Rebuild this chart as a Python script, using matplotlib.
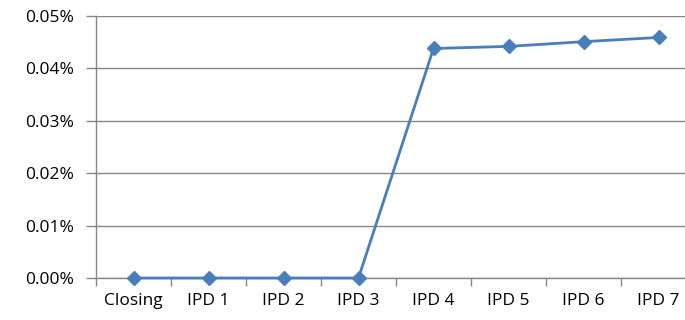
import matplotlib.pyplot as plt
from matplotlib.ticker import FuncFormatter, MultipleLocator, FixedLocator

plt.rcParams["font.family"] = ["Open Sans", "DejaVu Sans"]

categories = ["Closing", "IPD 1", "IPD 2", "IPD 3", "IPD 4", "IPD 5", "IPD 6", "IPD 7"]
values_pct = [0.0, 0.0, 0.0, 0.0, 0.0438, 0.0442, 0.0451, 0.0459]

fig = plt.figure(figsize=(6.85, 3.2), dpi=100)
ax = fig.add_axes([96 / 685, 42 / 320, 600 / 685, 262 / 320])

x = list(range(len(categories)))
ax.plot(x, values_pct, color="#4A7EBB", lw=2, marker="D", markersize=7.5,
        markerfacecolor="#4A7EBB", markeredgecolor="#4A7EBB", clip_on=False, zorder=3)

ax.set_xlim(-0.5, len(categories) - 0.5)
ax.set_ylim(0, 0.05)
ax.yaxis.set_major_locator(MultipleLocator(0.01))
ax.yaxis.set_major_formatter(FuncFormatter(lambda v, p: f"{v:.2f}%"))
ax.grid(axis="y", color="#868686", lw=1)
ax.set_axisbelow(True)

ax.set_xticks(x)
ax.set_xticklabels(categories)
ax.xaxis.set_minor_locator(FixedLocator([i - 0.5 for i in range(len(categories) + 1)]))
ax.tick_params(axis="x", which="major", length=0, pad=11, labelsize=12.5)
ax.tick_params(axis="x", which="minor", length=6, color="#868686", width=1)
ax.tick_params(axis="y", length=7, color="#868686", width=1, pad=9, labelsize=12.5)

for s in ["top", "right"]:
    ax.spines[s].set_visible(False)
for s in ["left", "bottom"]:
    ax.spines[s].set_color("#868686")
    ax.spines[s].set_linewidth(1)

fig.savefig("out.png", dpi=100)
